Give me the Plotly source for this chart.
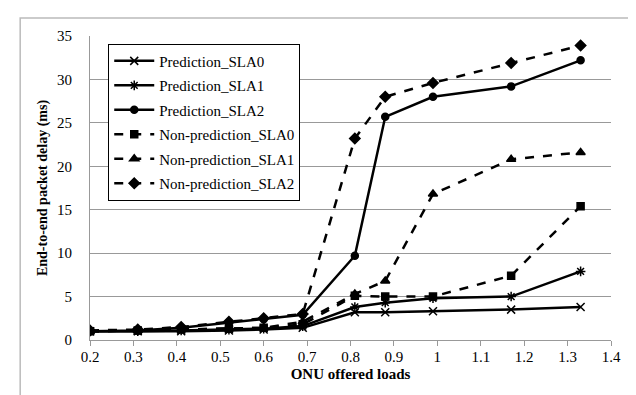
import plotly.graph_objects as go

loads = [0.2, 0.31, 0.41, 0.52, 0.6, 0.69, 0.81, 0.88, 0.99, 1.17, 1.33]

pred_sla0 = [1.0, 1.0, 1.0, 1.1, 1.2, 1.4, 3.2, 3.2, 3.3, 3.5, 3.8]
pred_sla1 = [1.0, 1.0, 1.1, 1.2, 1.3, 1.6, 3.8, 4.3, 4.8, 5.0, 7.9]
pred_sla2 = [1.0, 1.1, 1.4, 2.0, 2.4, 2.9, 9.7, 25.7, 28.0, 29.2, 32.2]
nonpred_sla0 = [1.0, 1.1, 1.2, 1.3, 1.4, 1.8, 5.1, 5.0, 5.0, 7.4, 15.4]
nonpred_sla1 = [1.0, 1.1, 1.2, 1.3, 1.4, 2.1, 5.3, 6.8, 16.8, 20.8, 21.6]
nonpred_sla2 = [1.1, 1.2, 1.5, 2.1, 2.5, 3.0, 23.2, 28.0, 29.6, 31.9, 33.9]

series = [
    ("Prediction_SLA0", pred_sla0, "solid", "x-thin-open", 8),
    ("Prediction_SLA1", pred_sla1, "solid", "asterisk-open", 8),
    ("Prediction_SLA2", pred_sla2, "solid", "circle", 7),
    ("Non-prediction_SLA0", nonpred_sla0, "dash", "square", 7),
    ("Non-prediction_SLA1", nonpred_sla1, "dash", "triangle-up", 8),
    ("Non-prediction_SLA2", nonpred_sla2, "dash", "diamond", 8),
]

fig = go.Figure()
for name, vals, dash, sym, sz in series:
    fig.add_trace(go.Scatter(
        x=loads, y=vals, name=name, mode="lines+markers", legendgroup=name,
        line=dict(color="black", width=2.5, dash=dash),
        marker=dict(symbol=sym, size=sz, color="black",
                    line=dict(color="black", width=1.5)),
    ))

font = "Liberation Serif"
fig.update_layout(
    width=636, height=395,
    margin=dict(l=82, r=33, t=28, b=63),
    paper_bgcolor="white", plot_bgcolor="white",
    font=dict(family=font, size=15, color="black"),
    showlegend=True,
    legend=dict(x=0.035, y=0.975, xanchor="left", yanchor="top",
                bordercolor="black", borderwidth=1, bgcolor="white",
                font=dict(family=font, size=15), tracegroupgap=2,
                itemwidth=40),
    xaxis=dict(range=[0.2, 1.4], dtick=0.1, tick0=0.2, showgrid=False,
               showline=True, linecolor="#999999", linewidth=1,
               ticks="outside", tickcolor="#999999", ticklen=5,
               ticklabelstandoff=-2,
               zeroline=False, tickfont=dict(family=font, size=15),
               title=dict(text="<b>ONU offered loads</b>", font=dict(family=font, size=15), standoff=4)),
    yaxis=dict(range=[0, 35], dtick=5, showgrid=True, gridcolor="#999999",
               gridwidth=1, showline=True, linecolor="#999999", linewidth=1,
               zeroline=False, ticks="", ticklen=0, ticklabelstandoff=14,
               tickfont=dict(family=font, size=15),
               title=dict(text="<b>End-to-end packet delay (ms)</b>", font=dict(family=font, size=14), standoff=6)),
    shapes=[dict(type="rect", xref="paper", yref="paper",
                 x0=-0.134, x1=1.042, y0=-0.2, y1=1.059,
                 line=dict(color="#bbbbbb", width=1.5), layer="below")],
)

fig.write_html("out.html")
